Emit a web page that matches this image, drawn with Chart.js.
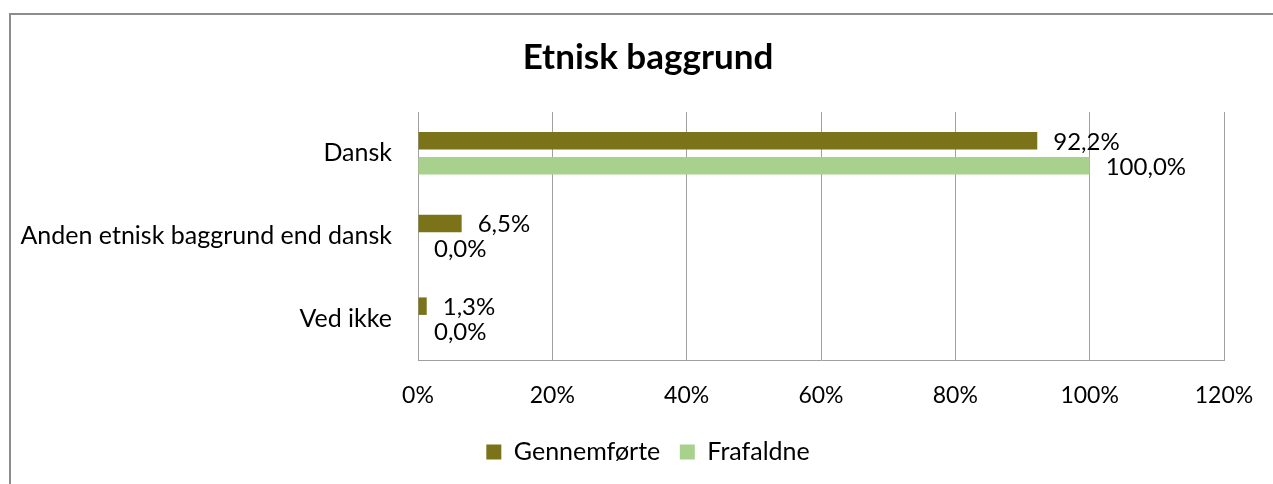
<!DOCTYPE html>
<html>
<head>
<meta charset="utf-8">
<script src="https://cdn.jsdelivr.net/npm/chart.js@4.4.0/dist/chart.umd.min.js"></script>
<style>
  html, body { margin: 0; padding: 0; background: #fff; }
  #frame { position: absolute; left: 9px; top: 13px; width: 1300px; height: 500px;
           border: 2px solid #8c8c8c; box-sizing: border-box; }
  #wrap { position: absolute; left: 0; top: 0; width: 1273px; height: 484px; }
</style>
</head>
<body>
<div id="frame"></div>
<div id="wrap"><canvas id="chart"></canvas></div>
<script>
// ── DATA ─────────────────────────────────────────────
const categories   = ['Dansk', 'Anden etnisk baggrund end dansk', 'Ved ikke'];
const gennemforte  = [92.2, 6.5, 1.3];
const frafaldne    = [100.0, 0.0, 0.0];
const seriesNames  = ['Gennemførte', 'Frafaldne'];
const xMin = 0, xMax = 120, xStep = 20;

const FONT = 'Lato';
const darkOlive  = '#7a7319';
const lightGreen = '#a9d18e';
const gridGray   = '#a0a0a0';

// value labels to the right of each bar, "92,2%" style
const valueLabels = {
    id: 'valueLabels',
    afterDatasetsDraw(chart) {
        const ctx = chart.ctx;
        ctx.save();
        ctx.font = '24px ' + FONT;
        ctx.fillStyle = '#000';
        ctx.textAlign = 'left';
        ctx.textBaseline = 'middle';
        chart.data.datasets.forEach((ds, i) => {
            chart.getDatasetMeta(i).data.forEach((bar, j) => {
                const txt = ds.data[j].toFixed(1).replace('.', ',') + '%';
                ctx.fillText(txt, bar.x + 16, bar.y + 1);
            });
        });
        ctx.restore();
    }
};

new Chart(document.getElementById('chart'), {
    type: 'bar',
    data: {
        labels: categories,
        datasets: [
            {
                label: seriesNames[0],
                data: gennemforte,
                backgroundColor: darkOlive,
                categoryPercentage: 0.605,
                barPercentage: 0.7
            },
            {
                label: seriesNames[1],
                data: frafaldne,
                backgroundColor: lightGreen,
                categoryPercentage: 0.605,
                barPercentage: 0.7
            }
        ]
    },
    options: {
        indexAxis: 'y',
        responsive: true,
        maintainAspectRatio: false,
        animation: false,
        // negative right padding widens the layout box so title/legend centre at ~648
        layout: { padding: { left: 0, right: -23, top: 0, bottom: 9.5 } },
        plugins: {
            title: {
                display: true,
                text: 'Etnisk baggrund',
                color: '#000',
                font: { family: FONT, size: 35, weight: 'bold', lineHeight: 1.2 },
                padding: { top: 37, bottom: 33 }
            },
            legend: {
                position: 'bottom',
                labels: {
                    color: '#000',
                    boxWidth: 15,
                    boxHeight: 15,
                    padding: 19.5,
                    font: { family: FONT, size: 25 }
                }
            },
            tooltip: { enabled: false }
        },
        scales: {
            x: {
                min: xMin,
                max: xMax,
                ticks: {
                    stepSize: xStep,
                    color: '#000',
                    padding: 22,
                    font: { family: FONT, size: 23 },
                    callback: v => v + '%'
                },
                grid: { color: gridGray, drawTicks: false },
                border: { color: gridGray },
                afterFit: s => { s.height = 60; s.paddingRight = 0; }
            },
            y: {
                ticks: {
                    color: '#000',
                    padding: 26,
                    font: { family: FONT, size: 25 }
                },
                grid: { display: false, drawTicks: false },
                border: { color: gridGray },
                afterFit: s => { s.width = 418; }
            },
            // empty spacer on the right so the plot ends at 120% like the original
            spacer: {
                type: 'linear',
                position: 'right',
                axis: 'y',
                ticks: { display: false },
                grid: { display: false, drawTicks: false },
                border: { display: false },
                afterFit: s => { s.width = 72; }
            }
        }
    },
    plugins: [valueLabels]
});
</script>
</body>
</html>
